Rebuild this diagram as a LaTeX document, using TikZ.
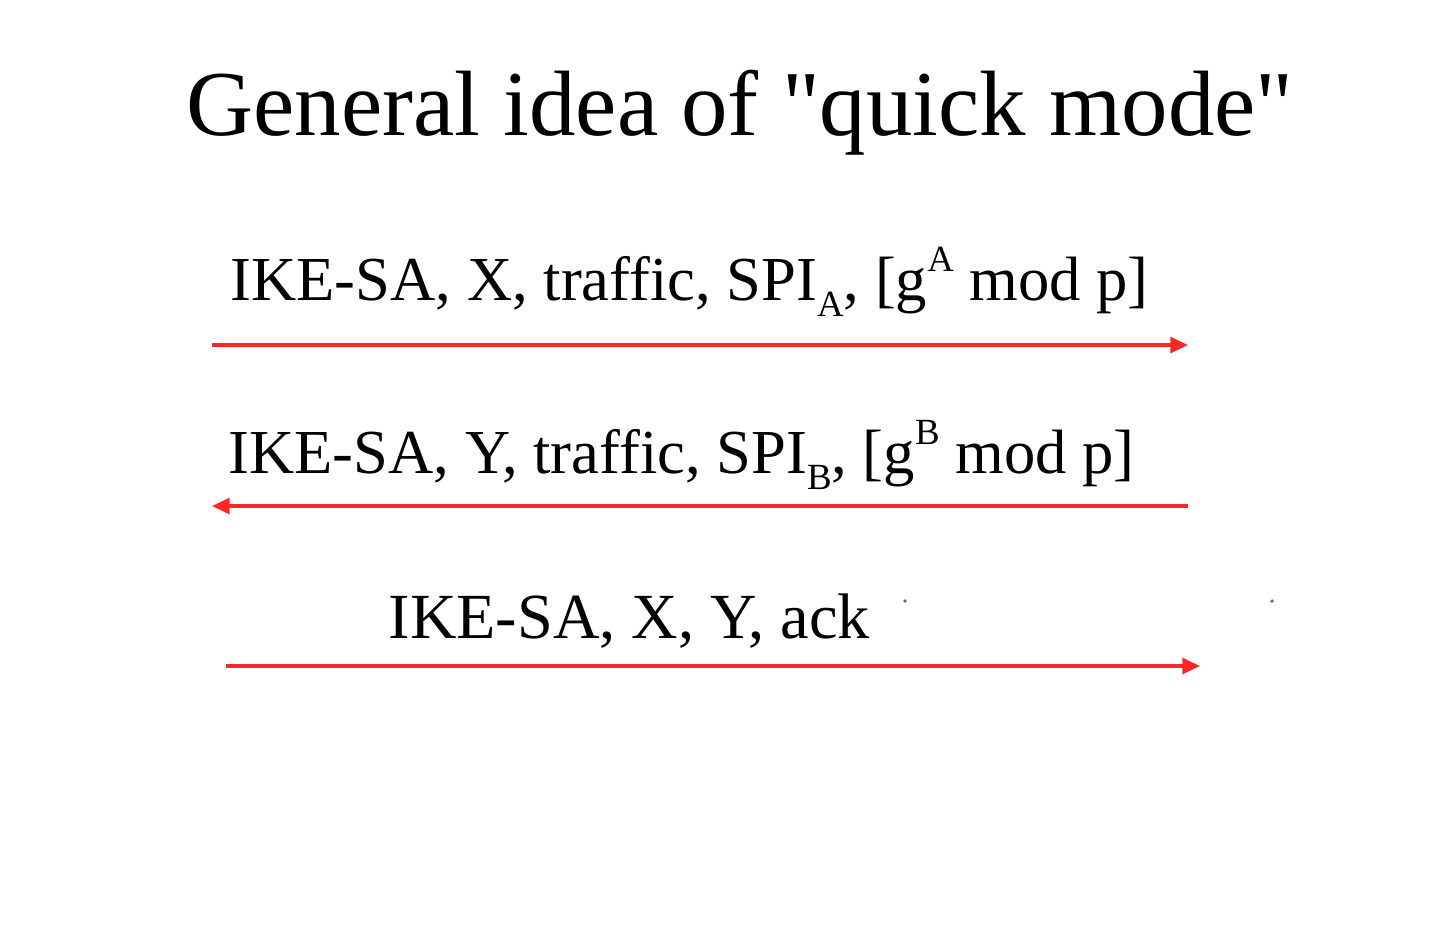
\documentclass[tikz,border=0pt]{standalone}
\usepackage{fontspec}
\setmainfont{Liberation Serif}
\newfontfamily\rawserif{Liberation Serif}
\usetikzlibrary{arrows.meta}
\definecolor{msgred}{RGB}{250,40,40}
\newcommand\lowidx[1]{\raisebox{-0.27em}{\fontsize{10.5}{11}\selectfont #1}}
\newcommand\highidx[1]{\raisebox{0.45em}{\fontsize{10.5}{11}\selectfont #1}}
\tikzset{
  msg/.style={draw=msgred, line width=0.9pt, -{Triangle[length=5pt,width=4.5pt]}},
  label/.style={anchor=base west, inner sep=0pt, font=\fontsize{17.8}{20}\selectfont, text=black},
  speck/.style={fill=black!60, draw=none}
}
\begin{document}
\begin{tikzpicture}[x=0.01cm,y=-0.01cm]
\useasboundingbox (0,0) rectangle (1440,938);
\node[anchor=base, inner sep=0pt, font=\rawserif\fontsize{26.4}{30}\selectfont] (title) at (740,135) {General idea of "quick mode"};
\node[label] (m1) at (230,300) {IKE-SA, X, traffic, SPI\lowidx{A}, [g\highidx{A} mod p]};
\node[label] (m2) at (228,473) {IKE-SA, Y, traffic, SPI\lowidx{B}, [g\highidx{B} mod p]};
\node[label, font=\fontsize{18.3}{20}\selectfont] (m3) at (388,638) {IKE-SA, X, Y, ack};
\coordinate (a1s) at (212,345); \coordinate (a1e) at (1188,345);
\coordinate (a2s) at (1188,506); \coordinate (a2e) at (212,506);
\coordinate (a3s) at (226,666); \coordinate (a3e) at (1200,666);
\draw[msg] (a1s) -- (a1e);
\draw[msg] (a2s) -- (a2e);
\draw[msg] (a3s) -- (a3e);
\fill[speck] (905,601) circle (1.8);
\fill[speck] (1272,601) circle (1.8);
\end{tikzpicture}
\end{document}
